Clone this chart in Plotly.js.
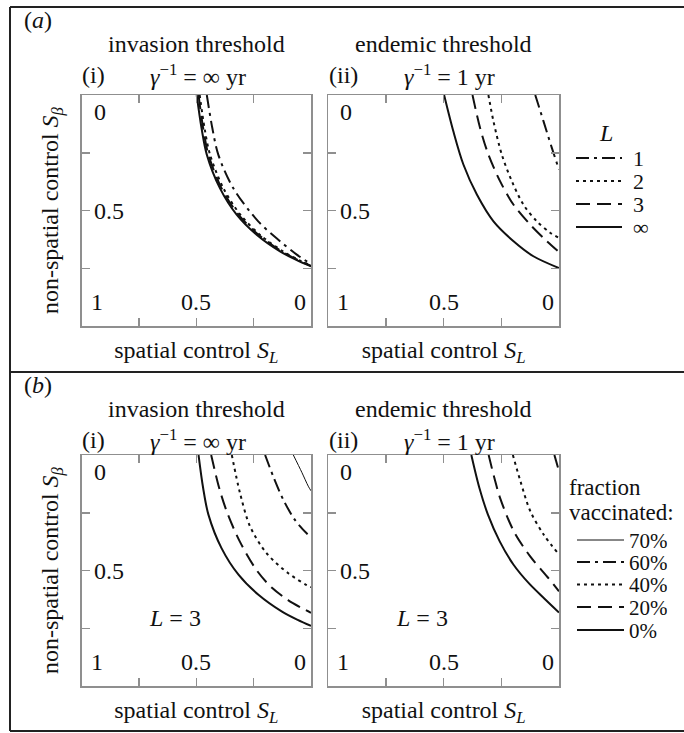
<!DOCTYPE html>
<html>
<head>
<meta charset="utf-8">
<script src="https://cdn.plot.ly/plotly-3.0.1.min.js"></script>
<style>html,body{margin:0;padding:0;background:#fff;}#chart{width:684px;height:733px;}</style>
</head>
<body>
<div id="chart"></div>
<script>
// ---------- data ----------
// panel (a)(i): invasion threshold, gamma^-1 = inf yr, curves for L = 1, 2, 3, inf
const aI_Linf_x = [0.498, 0.477, 0.454, 0.397, 0.324, 0.237, 0.135, 0.062, 0];
const aI_Linf_y = [0, 0.143, 0.258, 0.403, 0.518, 0.605, 0.677, 0.715, 0.742];
const aI_L3_x = [0.490, 0.470, 0.447, 0.390, 0.316, 0.229, 0.128, 0.058, 0];
const aI_L3_y = [0, 0.143, 0.258, 0.403, 0.518, 0.605, 0.677, 0.714, 0.740];
const aI_L2_x = [0.485, 0.464, 0.440, 0.382, 0.308, 0.220, 0.120, 0.054, 0];
const aI_L2_y = [0, 0.143, 0.258, 0.403, 0.518, 0.607, 0.678, 0.714, 0.738];
const aI_L1_x = [0.454, 0.430, 0.404, 0.339, 0.230, 0.135, 0.062, 0];
const aI_L1_y = [0, 0.143, 0.258, 0.403, 0.547, 0.633, 0.691, 0.732];

// panel (a)(ii): endemic threshold, gamma^-1 = 1 yr
const aII_Linf_x = [0.498, 0.458, 0.414, 0.356, 0.284, 0.197, 0.111, 0];
const aII_Linf_y = [0, 0.157, 0.302, 0.431, 0.547, 0.633, 0.698, 0.749];
const aII_L3_x = [0.375, 0.342, 0.306, 0.255, 0.197, 0.125, 0.053, 0];
const aII_L3_y = [0, 0.143, 0.258, 0.374, 0.475, 0.561, 0.633, 0.680];
const aII_L2_x = [0.306, 0.284, 0.248, 0.204, 0.154, 0.096, 0.040, 0];
const aII_L2_y = [0, 0.114, 0.258, 0.374, 0.475, 0.547, 0.595, 0.619];
const aII_L1_x = [0.103, 0.067, 0.031, 0];
const aII_L1_y = [0, 0.114, 0.229, 0.323];

// panel (b)(i): invasion threshold, L = 3, fraction vaccinated 0..70%
const bI_v0_x = [0.490, 0.470, 0.447, 0.390, 0.316, 0.229, 0.128, 0.058, 0];
const bI_v0_y = [0, 0.143, 0.258, 0.403, 0.518, 0.605, 0.677, 0.714, 0.740];
const bI_v20_x = [0.435, 0.400, 0.365, 0.310, 0.236, 0.170, 0.100, 0.045, 0];
const bI_v20_y = [0, 0.143, 0.250, 0.375, 0.500, 0.575, 0.628, 0.660, 0.683];
const bI_v40_x = [0.345, 0.309, 0.265, 0.193, 0.099, 0.019, 0];
const bI_v40_y = [0, 0.166, 0.310, 0.426, 0.512, 0.563, 0.572];
const bI_v60_x = [0.200, 0.164, 0.120, 0.070, 0.019, 0];
const bI_v60_y = [0, 0.094, 0.195, 0.281, 0.339, 0.355];
const bI_v70_x = [0.077, 0.040, 0.012, 0];
const bI_v70_y = [0, 0.075, 0.135, 0.155];

// panel (b)(ii): endemic threshold, L = 3
const bII_v0_x = [0.380, 0.345, 0.308, 0.257, 0.197, 0.130, 0.065, 0];
const bII_v0_y = [0, 0.143, 0.258, 0.374, 0.475, 0.556, 0.620, 0.682];
const bII_v20_x = [0.305, 0.280, 0.254, 0.196, 0.124, 0.051, 0];
const bII_v20_y = [0, 0.100, 0.190, 0.330, 0.440, 0.527, 0.590];
const bII_v40_x = [0.200, 0.167, 0.124, 0.066, 0];
const bII_v40_y = [0, 0.114, 0.244, 0.345, 0.431];
const bII_v60_x = [0.020, 0];
const bII_v60_y = [0, 0.070];

// tick labels
const xTickVals = [1, 0.5, 0];
const xTickText = ['1', '0.5', '0'];
const yTickVals = [0, 0.5];
const yTickText = ['0', '0.5'];
const tickMarks = [0.25, 0.5, 0.75];

// legend labels
const legendA = ['1', '2', '3', '∞'];
const legendB = ['70%', '60%', '40%', '20%', '0%'];

// ---------- styles ----------
const INK = '#111';
const S_SOLID = {color: INK, width: 2};
const S_DASH = {color: INK, width: 2, dash: '14px,7px'};
const S_DOT = {color: INK, width: 2, dash: '3px,4px'};
const S_DASHDOT = {color: INK, width: 2, dash: '13px,5px,3px,5px'};
const S_THIN = {color: INK, width: 1};

const W = 684, H = 733;
const px = x => x / W;
const py = y => 1 - y / H;
const FONT = "'Liberation Serif', 'Times New Roman', serif";

function tr(x, y, name, line, ax) {
  return {x: x, y: y, name: name, type: 'scatter', mode: 'lines',
          line: Object.assign({shape: 'spline', smoothing: 0.9}, line),
          xaxis: 'x' + ax, yaxis: 'y' + ax, hoverinfo: 'skip', showlegend: false};
}

const data = [
  tr(aI_L1_x, aI_L1_y, 'L = 1', S_DASHDOT, ''),
  tr(aI_L2_x, aI_L2_y, 'L = 2', S_DOT, ''),
  tr(aI_L3_x, aI_L3_y, 'L = 3', S_DASH, ''),
  tr(aI_Linf_x, aI_Linf_y, 'L = ∞', S_SOLID, ''),
  tr(aII_L1_x, aII_L1_y, 'L = 1', S_DASHDOT, '2'),
  tr(aII_L2_x, aII_L2_y, 'L = 2', S_DOT, '2'),
  tr(aII_L3_x, aII_L3_y, 'L = 3', S_DASH, '2'),
  tr(aII_Linf_x, aII_Linf_y, 'L = ∞', S_SOLID, '2'),
  tr(bI_v70_x, bI_v70_y, '70%', S_THIN, '3'),
  tr(bI_v60_x, bI_v60_y, '60%', S_DASHDOT, '3'),
  tr(bI_v40_x, bI_v40_y, '40%', S_DOT, '3'),
  tr(bI_v20_x, bI_v20_y, '20%', S_DASH, '3'),
  tr(bI_v0_x, bI_v0_y, '0%', S_SOLID, '3'),
  tr(bII_v60_x, bII_v60_y, '60%', S_DASHDOT, '4'),
  tr(bII_v40_x, bII_v40_y, '40%', S_DOT, '4'),
  tr(bII_v20_x, bII_v20_y, '20%', S_DASH, '4'),
  tr(bII_v0_x, bII_v0_y, '0%', S_SOLID, '4')
];

const BOXC = '#8f8f8f';
function xa(dom, anchor) {
  return {domain: dom, anchor: anchor, range: [1, 0], showline: true, linecolor: BOXC, linewidth: 1.5,
          mirror: 'ticks', ticks: 'inside', ticklen: 8, tickwidth: 1.5, tickcolor: BOXC,
          tickvals: tickMarks, showticklabels: false, showgrid: false, zeroline: false, fixedrange: true,
          title: {text: 'spatial control <i>S</i><sub><i>L</i></sub>', standoff: 14,
                  font: {family: FONT, size: 24, color: INK}}};
}
function ya(dom, anchor, withTitle) {
  const o = {domain: dom, anchor: anchor, range: [1, 0], showline: true, linecolor: BOXC, linewidth: 1.5,
          mirror: 'ticks', ticks: 'inside', ticklen: 8, tickwidth: 1.5, tickcolor: BOXC,
          tickvals: tickMarks, showticklabels: false, showgrid: false, zeroline: false, fixedrange: true};
  if (withTitle) o.title = {text: 'non-spatial control <i>S</i><sub><i>β</i></sub>', standoff: 14,
                  font: {family: FONT, size: 24, color: INK}};
  return o;
}

const XD1 = [px(81.5), px(311)], XD2 = [px(328.3), px(559)];
const YDA = [py(326), py(95)], YDB = [py(686), py(455)];

const annotations = [];
function ann(text, x, y, o) {
  annotations.push(Object.assign({text: text, x: px(x), y: py(y), xref: 'paper', yref: 'paper',
    showarrow: false, xanchor: 'center', yanchor: 'middle', font: {family: FONT, size: 24, color: INK}}, o || {}));
}

// tick labels inside each panel (placed through the axes' own scales)
['', '2', '3', '4'].forEach(ax => {
  const xanc = ['left', 'center', 'right'];
  const xsh = [7, 0, -3];
  xTickVals.forEach((v, i) => annotations.push({text: xTickText[i], x: v, y: 1, xref: 'x' + ax, yref: 'y' + ax,
    xanchor: xanc[i], yanchor: 'bottom', xshift: xsh[i], yshift: 9, showarrow: false,
    font: {family: FONT, size: 24, color: INK}}));
  yTickVals.forEach((v, i) => annotations.push({text: yTickText[i], x: 1, y: v, xref: 'x' + ax, yref: 'y' + ax,
    xanchor: 'left', yanchor: i === 0 ? 'top' : 'middle', xshift: 10, yshift: i === 0 ? -2 : 0, showarrow: false,
    font: {family: FONT, size: 24, color: INK}}));
});

// panel headers
[[0, '(<i>a</i>)'], [365, '(<i>b</i>)']].forEach(r => {
  const d = r[0];
  ann(r[1], 22, 20 + d, {xanchor: 'left'});
  ann('invasion threshold', 196, 44 + d);
  ann('endemic threshold', 443, 44 + d);
  ann('(i)', 80, 75 + d, {xanchor: 'left'});
  ann('<i>γ</i><sup>−1</sup> = ∞ yr', 148, 75 + d, {xanchor: 'left'});
  ann('(ii)', 327, 75 + d, {xanchor: 'left'});
  ann('<i>γ</i><sup>−1</sup> = 1 yr', 402, 75 + d, {xanchor: 'left'});
});
ann('<i>L</i> = 3', 175, 618);
ann('<i>L</i> = 3', 422, 618);

// legends (key lines drawn as shapes, labels as text)
const shapes = [];
function hline(x0, x1, y, line) {
  shapes.push({type: 'line', xref: 'paper', yref: 'paper', x0: px(x0), x1: px(x1), y0: py(y), y1: py(y),
               line: Object.assign({color: INK, width: 2}, line)});
}
ann('<i>L</i>', 606, 133, {height: 22});
const legAStyles = [S_DASHDOT, S_DOT, S_DASH, S_SOLID];
const legAY = [158, 181, 204, 227];
legendA.forEach((t, i) => {
  hline(576, 622, legAY[i], legAStyles[i]);
  ann(t, 631, legAY[i], {xanchor: 'left', height: 22, font: {family: FONT, size: 22, color: INK}});
});
ann('fraction', 567, 487, {xanchor: 'left', height: 23, font: {family: FONT, size: 23, color: INK}});
ann('vaccinated:', 567, 512, {xanchor: 'left', height: 23, font: {family: FONT, size: 23, color: INK}});
const legBStyles = [S_THIN, S_DASHDOT, S_DOT, S_DASH, S_SOLID];
const legBY = [540, 562, 584.5, 607, 630];
legendB.forEach((t, i) => {
  hline(577, 624, legBY[i], legBStyles[i]);
  ann(t, 627, legBY[i], {xanchor: 'left', height: 21, font: {family: FONT, size: 21, color: INK}});
});

// figure frame
const FR = {color: '#222', width: 2};
[[10, 7, 10, 731], [10, 7, 684, 7], [10, 372, 684, 372], [10, 731, 684, 731]].forEach(s => {
  shapes.push({type: 'line', xref: 'paper', yref: 'paper', x0: px(s[0]), y0: py(s[1]), x1: px(s[2]), y1: py(s[3]), line: FR});
});

const layout = {
  width: W, height: H, margin: {l: 0, r: 0, t: 0, b: 0},
  paper_bgcolor: '#fff', plot_bgcolor: '#fff', showlegend: false,
  font: {family: FONT, size: 24, color: INK},
  xaxis: xa(XD1, 'y'), yaxis: ya(YDA, 'x', true),
  xaxis2: xa(XD2, 'y2'), yaxis2: ya(YDA, 'x2', false),
  xaxis3: xa(XD1, 'y3'), yaxis3: ya(YDB, 'x3', true),
  xaxis4: xa(XD2, 'y4'), yaxis4: ya(YDB, 'x4', false),
  annotations: annotations, shapes: shapes
};

Plotly.newPlot('chart', data, layout, {displayModeBar: false, staticPlot: true});
</script>
</body>
</html>
